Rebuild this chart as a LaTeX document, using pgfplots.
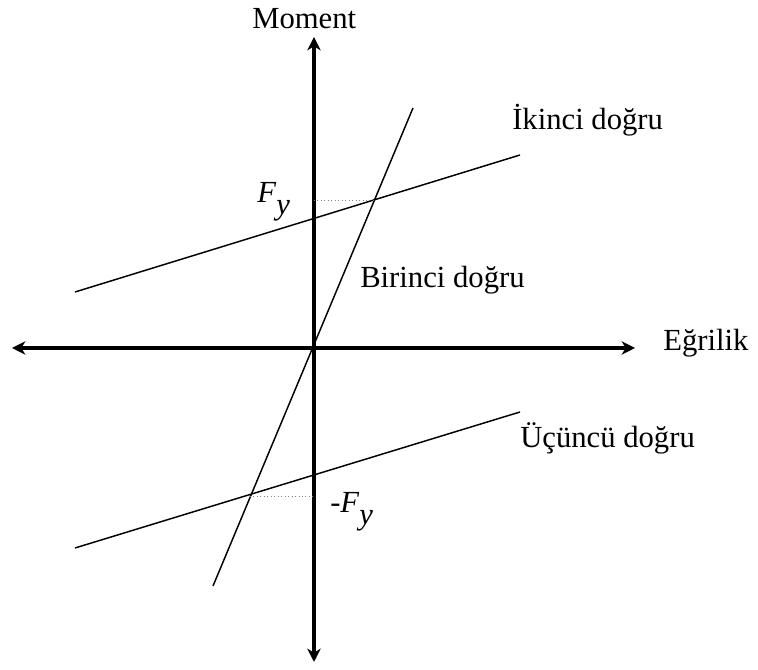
\documentclass[border=0pt]{standalone}
\usepackage{pgfplots}
\pgfplotsset{compat=1.18}
\usepackage{fontspec}
\setmainfont{Liberation Serif}
\usetikzlibrary{arrows.meta}
\begin{document}
\fontsize{23}{27}\selectfont
\begin{tikzpicture}[font=\fontsize{23}{27}\selectfont]
\begin{axis}[hide axis, x=0.75pt, y=0.75pt, xmin=-314, xmax=444, ymin=-322, ymax=348, clip=false,
  enlargelimits=false]
% frame for the page extent (invisible)
\addplot[draw=none] coordinates {(-314,-322) (444,348)};
% axes
\addplot[line width=3pt, {Stealth[length=10pt,width=10pt,inset=3pt]}-{Stealth[length=10pt,width=10pt,inset=3pt]}] coordinates {(-302,0) (321,0)};
\addplot[line width=3pt, {Stealth[length=10pt,width=10pt,inset=3pt]}-{Stealth[length=10pt,width=10pt,inset=3pt]}] coordinates {(0,-314) (0,311)};
% Birinci dogru
\addplot[line width=1.1pt] coordinates {(-101,-238) (99,240)};
% Ikinci dogru
\addplot[line width=1.1pt] coordinates {(-239,56) (206,193)};
% Ucuncu dogru
\addplot[line width=1.1pt] coordinates {(-239,-200) (206,-64)};
% dotted levels
\addplot[line width=0.6pt, dotted, gray] coordinates {(0,148) (60,148)};
\addplot[line width=0.6pt, dotted, gray] coordinates {(-64,-148) (0,-148)};
% labels
\node[anchor=base west,inner sep=0pt,font=\fontsize{23}{27}\selectfont] at (axis cs:-62,319) {Moment};
\node[anchor=base west,inner sep=0pt,font=\fontsize{23}{27}\selectfont] at (axis cs:349,-3) {Eğrilik};
\node[anchor=base west,inner sep=0pt,font=\fontsize{23}{27}\selectfont] at (axis cs:198,218) {İkinci doğru};
\node[anchor=base west,inner sep=0pt,font=\fontsize{23}{27}\selectfont] at (axis cs:46,60) {Birinci doğru};
\node[anchor=base west,inner sep=0pt,font=\fontsize{23}{27}\selectfont] at (axis cs:206,-100) {Üçüncü doğru};
\node[anchor=base west,inner sep=0pt,font=\fontsize{23}{27}\selectfont] at (axis cs:-57,145) {\textit{F}\raisebox{-9pt}{\textit{y}}};
\node[anchor=base west,inner sep=0pt,font=\fontsize{23}{27}\selectfont] at (axis cs:16,-165) {-\textit{F}\raisebox{-9pt}{\textit{y}}};
\end{axis}
\end{tikzpicture}
\end{document}
